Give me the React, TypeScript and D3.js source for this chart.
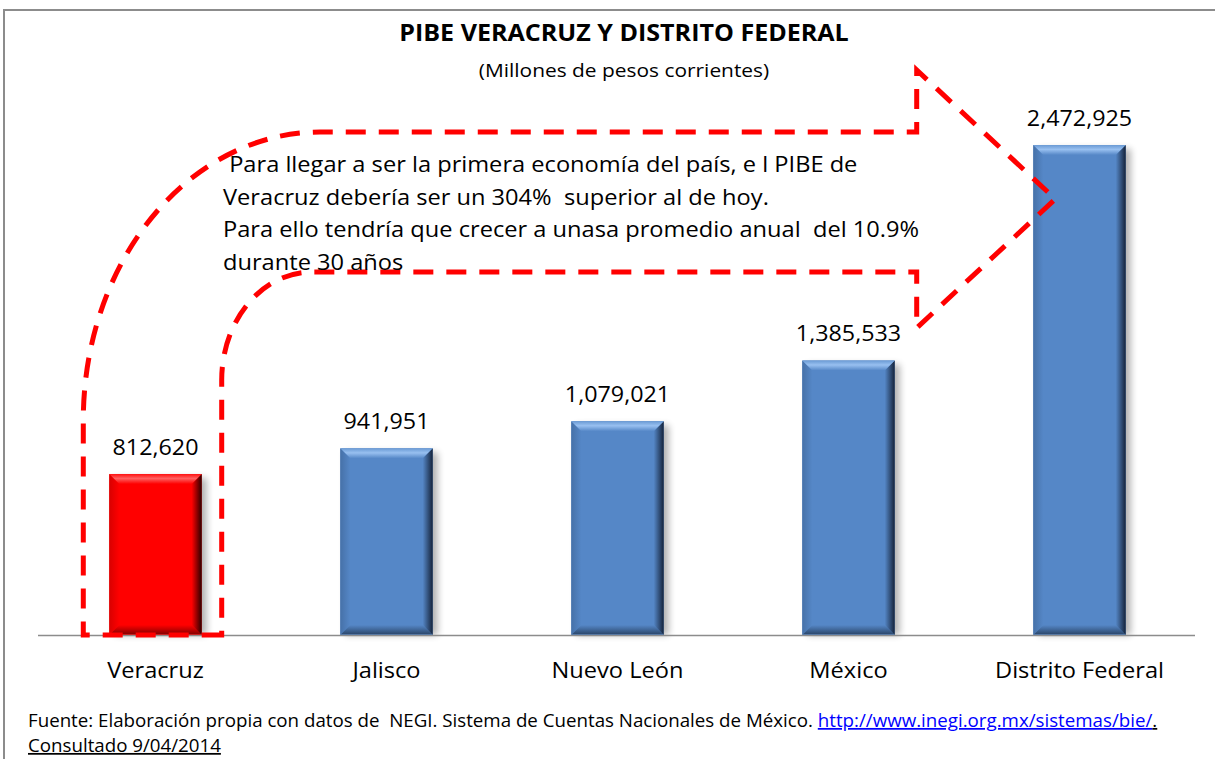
import React from "react";
import * as d3 from "d3";

const categories = ["Veracruz", "Jalisco", "Nuevo León", "México", "Distrito Federal"];
const values = [812620, 941951, 1079021, 1385533, 2472925];
const highlighted = ["Veracruz"];

const title = "PIBE VERACRUZ Y DISTRITO FEDERAL";
const subtitle = "(Millones de pesos corrientes)";
const noteLines = [
  " Para llegar a ser la primera economía del país, e l PIBE de",
  "Veracruz debería ser un 304%  superior al de hoy.",
  "Para ello tendría que crecer a unasa promedio anual  del 10.9%",
  "durante 30 años",
];
const footerText = "Fuente: Elaboración propia con datos de  NEGI. Sistema de Cuentas Nacionales de México. ";
const footerLink = "http://www.inegi.org.mx/sistemas/bie/";
const footerLine2 = "Consultado 9/04/2014";

const W = 1215;
const H = 759;
const FONT = "'Open Sans', Lato, sans-serif";

const palettes: Record<string, { base: string; top: [string, string]; left: string; right: string; bottom: string }> = {
  blue: { base: "#5587c7", top: ["#6a9ad4", "#98c0f0"], left: "#4671a8", right: "#15233a", bottom: "#2f4d74" },
  red: { base: "#ff0000", top: ["#ff1010", "#ff6060"], left: "#d80000", right: "#2a0000", bottom: "#900000" },
};

function T({ x, y, sx = 1, children, ...rest }: any) {
  return (
    <g transform={`translate(${x},${y}) scale(${sx},1)`}>
      <text x={0} y={0} fill="#000" style={{ whiteSpace: "pre" }} {...rest}>
        {children}
      </text>
    </g>
  );
}

function Grads({ id, p }: { id: string; p: (typeof palettes)["blue"] }) {
  return (
    <>
      <linearGradient id={`${id}-top`} x1="0" x2="0" y1="0" y2="1">
        <stop offset="0" stopColor={p.top[0]} />
        <stop offset="0.45" stopColor={p.top[1]} />
        <stop offset="1" stopColor={p.base} />
      </linearGradient>
      <linearGradient id={`${id}-left`} x1="0" x2="1" y1="0" y2="0">
        <stop offset="0" stopColor={p.left} />
        <stop offset="1" stopColor={p.base} />
      </linearGradient>
      <linearGradient id={`${id}-right`} x1="0" x2="1" y1="0" y2="0">
        <stop offset="0" stopColor={p.base} />
        <stop offset="1" stopColor={p.right} />
      </linearGradient>
      <linearGradient id={`${id}-bottom`} x1="0" x2="0" y1="0" y2="1">
        <stop offset="0" stopColor={p.base} />
        <stop offset="0.85" stopColor={p.bottom} />
        <stop offset="1" stopColor={p.base} />
      </linearGradient>
    </>
  );
}

export default function App() {
  const x = d3
    .scaleBand<string>()
    .domain(categories)
    .range([40, 1195])
    .paddingInner(0.6)
    .paddingOuter(0.3);
  const y = d3.scaleLinear().domain([0, 2700000]).range([635, 100]);
  const bw = x.bandwidth();
  const fmt = d3.format(",");
  const bev = 10;

  const xv = x("Veracruz")!;
  const xm = x("México")!;
  const xd = x("Distrito Federal")!;
  const oL = xv - 26;
  const iL = xv + bw + 20;
  const aX = xm + bw + 22;
  const tipX = xd + 22;
  const y0 = y(0);
  const oTop = 132;
  const iTop = 272;
  const arrowPath = [
    `M ${iL} ${y0}`,
    `L ${oL} ${y0}`,
    `L ${oL} 420`,
    `A 237 288 0 0 1 320 ${oTop}`,
    `L ${aX} ${oTop}`,
    `L ${aX} 70`,
    `L ${tipX} 199`,
    `L ${aX} 328`,
    `L ${aX} ${iTop}`,
    `L 313 ${iTop}`,
    `A 90 108 0 0 0 ${iL} 380`,
    `Z`,
  ].join(" ");

  return (
    <svg
      width={W}
      height={H}
      style={{ position: "absolute", left: 0, top: 0, background: "#fff" }}
      fontFamily={FONT}
    >
      <defs>
        <filter id="shadow" x="-20%" y="-10%" width="150%" height="120%">
          <feGaussianBlur stdDeviation="3.5" />
        </filter>
        <Grads id="blue" p={palettes.blue} />
        <Grads id="red" p={palettes.red} />
      </defs>
      <path d={`M 4 ${H} L 4 10 L ${W} 10`} fill="none" stroke="#8c8c8c" strokeWidth={2} />

      <T x={624} y={41} sx={1.09} textAnchor="middle" fontSize={23} fontWeight="bold">
        {title}
      </T>
      <T x={624} y={77} sx={1.1} textAnchor="middle" fontSize={19}>
        {subtitle}
      </T>

      {categories.map((c, i) => {
        const bx = x(c)!;
        const by = y(values[i]);
        const bh = y0 - by;
        const key = highlighted.includes(c) ? "red" : "blue";
        const p = palettes[key];
        return (
          <g key={c}>
            <rect x={bx + 5} y={by + 4} width={bw} height={bh - 4} fill="#000" opacity={0.3} filter="url(#shadow)" />
            <rect x={bx} y={by} width={bw} height={bh} fill={p.base} />
            <polygon
              points={`${bx},${by} ${bx + bev},${by + bev} ${bx + bev},${y0 - bev} ${bx},${y0}`}
              fill={`url(#${key}-left)`}
            />
            <polygon
              points={`${bx + bw},${by} ${bx + bw},${y0} ${bx + bw - bev},${y0 - bev} ${bx + bw - bev},${by + bev}`}
              fill={`url(#${key}-right)`}
            />
            <polygon
              points={`${bx},${y0} ${bx + bw},${y0} ${bx + bw - bev},${y0 - bev} ${bx + bev},${y0 - bev}`}
              fill={`url(#${key}-bottom)`}
            />
            <polygon
              points={`${bx},${by} ${bx + bw},${by} ${bx + bw - bev},${by + bev} ${bx + bev},${by + bev}`}
              fill={`url(#${key}-top)`}
            />
            <T x={bx + bw / 2} y={by - 19} sx={1.06} textAnchor="middle" fontSize={22}>
              {fmt(values[i])}
            </T>
            <T x={bx + bw / 2} y={678} sx={1.05} textAnchor="middle" fontSize={22.5}>
              {c}
            </T>
          </g>
        );
      })}

      <line x1={38} x2={1195} y1={y0 + 0.5} y2={y0 + 0.5} stroke="#8c8c8c" strokeWidth={1.5} />

      <path d={arrowPath} fill="none" stroke="#ff0000" strokeWidth={5} strokeDasharray="20 13" />
      {noteLines.map((t, i) => (
        <T key={i} x={223} y={172 + i * 32.5} sx={1.06} fontSize={22.3}>
          {t}
        </T>
      ))}

      <T x={28} y={727} sx={1.07} fontSize={17.5}>
        <tspan>{footerText}</tspan>
        <tspan fill="#0000ff" textDecoration="underline">{footerLink}</tspan>
        <tspan textDecoration="underline">.</tspan>
      </T>
      <T x={28} y={752} sx={1.07} fontSize={17.5} textDecoration="underline">
        {footerLine2}
      </T>
    </svg>
  );
}
